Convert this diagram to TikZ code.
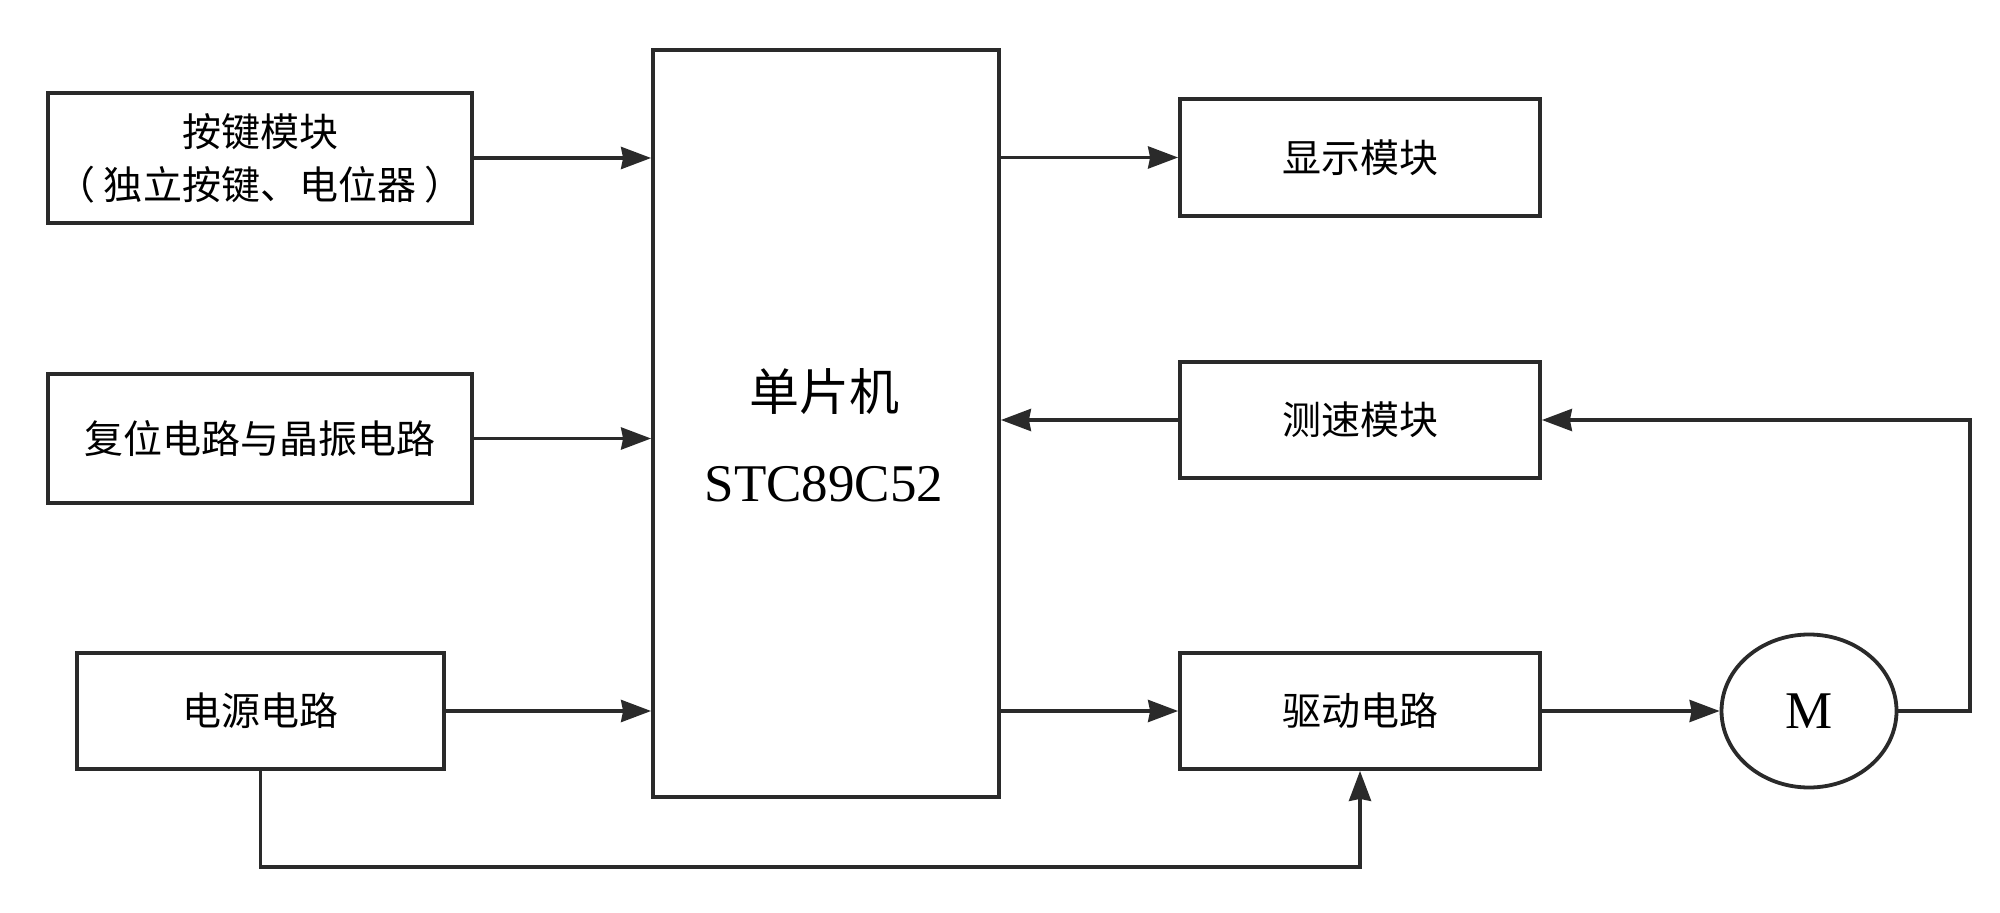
\documentclass[tikz,border=0pt]{standalone}
\usepackage{fontspec}
\setmainfont{Liberation Serif}
\newfontfamily\cjk{Noto Sans CJK SC}
\usetikzlibrary{arrows.meta,positioning,calc,shapes.geometric}
\definecolor{ln}{HTML}{2A2A2A}
\tikzset{
  blk/.style={draw=ln,line width=1.9pt,inner sep=0pt,align=center,text=black,
    font=\cjk\fontsize{19.5pt}{26.5pt}\selectfont},
  conn/.style={draw=ln,line width=1.8pt,-{Stealth[length=15pt,width=11pt,inset=1pt]}}
}
\begin{document}
\begin{tikzpicture}[x=0.5pt,y=-0.5pt]
\useasboundingbox[fill=white] (0,0) rectangle (2000,913);
\node[blk,minimum width=212pt,minimum height=65pt] (key) at (260,158)
  {按键模块\\（~独立按键、电位器~）};
\node[blk,minimum width=212pt,minimum height=64.5pt] (reset) at (260,438.5)
  {复位电路与晶振电路};
\node[blk,minimum width=183.5pt,minimum height=58pt] (power) at (260.5,711)
  {电源电路};
\node[blk,minimum width=173pt,minimum height=373.5pt] (mcu) at (826,423.5) {};
\node[font=\cjk\fontsize{25pt}{30pt}\selectfont] (mcut) at (824,392) {单片机};
\node[font=\fontsize{26.5pt}{30pt}\selectfont] (mcun) at (824,484) {STC89C52};
\node[blk,minimum width=180pt,minimum height=58.5pt] (disp) at (1360,157.5) {显示模块};
\node[blk,minimum width=180pt,minimum height=58pt] (speed) at (1360,420) {测速模块};
\node[blk,minimum width=180pt,minimum height=58pt] (drive) at (1360,711) {驱动电路};
\node[draw=ln,line width=1.9pt,ellipse,inner sep=0pt,minimum width=87.5pt,minimum height=76.5pt,
  font=\fontsize{26.5pt}{30pt}\selectfont] (motor) at (1809,711) {M};
\coordinate (c1) at (1970,711);
\coordinate (c2) at (1970,420);
\coordinate (c3) at (260.5,867);
\coordinate (c4) at (1360,867);
\draw[conn] (key.east) -- (key.east -| mcu.west);
\draw[conn] (reset.east) -- (reset.east -| mcu.west);
\draw[conn] (power.east) -- (power.east -| mcu.west);
\draw[conn] (mcu.east |- disp.west) -- (disp.west);
\draw[conn] (speed.west) -- (speed.west -| mcu.east);
\draw[conn] (mcu.east |- drive.west) -- (drive.west);
\draw[conn] (drive.east) -- (motor.west);
\draw[conn] (motor.east) -- (c1) -- (c2) -- (speed.east);
\draw[conn] (power.south) -- (c3) -- (c4) -- (drive.south);
\end{tikzpicture}
\end{document}
